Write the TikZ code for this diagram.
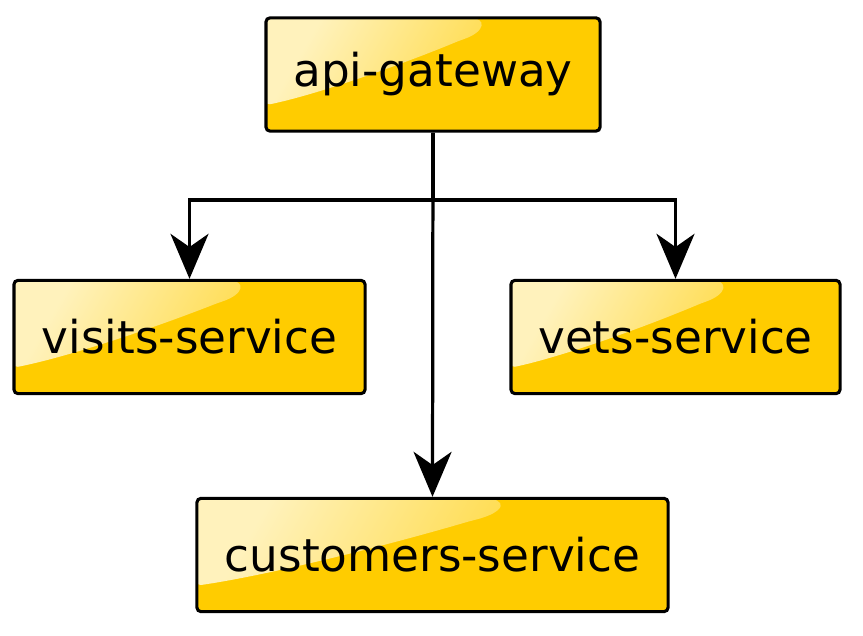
\documentclass[tikz,border=0pt]{standalone}
\usepackage{fontspec}
\setmainfont{DejaVu Sans}
\usetikzlibrary{arrows.meta,calc}
\definecolor{boxyellow}{HTML}{FFCC00}
\definecolor{glosslight}{HTML}{FFF2BC}
\tikzset{
  service/.style={draw=black, line width=2.2pt, rounded corners=0.1cm, fill=boxyellow,
    font=\fontsize{32.2}{38}\selectfont, minimum height=2.83cm, inner sep=0pt,
    path picture={
      \shade[top color=glosslight, middle color=boxyellow!72!white, bottom color=boxyellow!93!white, shading angle=60]
        let \p1=(path picture bounding box.north west), \p2=(path picture bounding box.south east),
            \n1={\x2-\x1}, \n2={\y1-\y2} in
        (\p1) -- ({\x1+0.6*\n1},{\y1})
        .. controls ({\x1+0.66*\n1},{\y1}) and ({\x1+0.66*\n1},{\y1-0.12*\n2}) .. ({\x1+0.58*\n1},{\y1-0.2*\n2})
        .. controls ({\x1+0.4*\n1},{\y1-0.42*\n2}) and ({\x1+0.15*\n1},{\y1-0.68*\n2}) .. ({\x1},{\y1-0.77*\n2}) -- cycle;
    }},
  link/.style={line width=2.3pt, -{Stealth[length=1.125cm, width=0.95cm, inset=0.33cm]}}
}
\begin{document}
\begin{tikzpicture}[x=0.025cm, y=0.025cm]
  \useasboundingbox (0,0) rectangle (863,-636);
  \node[service, minimum width=8.35cm] (gateway) at (433,-74.5) {api-gateway};
  \node[service, minimum width=8.775cm] (visits) at (189.5,-337) {visits-service};
  \node[service, minimum width=8.225cm] (vets) at (675.5,-337) {vets-service};
  \node[service, minimum width=11.775cm] (customers) at (432.5,-555) {customers-service};
  %split point under the gateway
  \coordinate (split) at (433,-200);
  \draw[link] (gateway.south) -- (split) -| (visits.north);
  \draw[link] (split) -| (vets.north);
  \draw[link] (gateway.south) -- (customers.north);
\end{tikzpicture}
\end{document}
